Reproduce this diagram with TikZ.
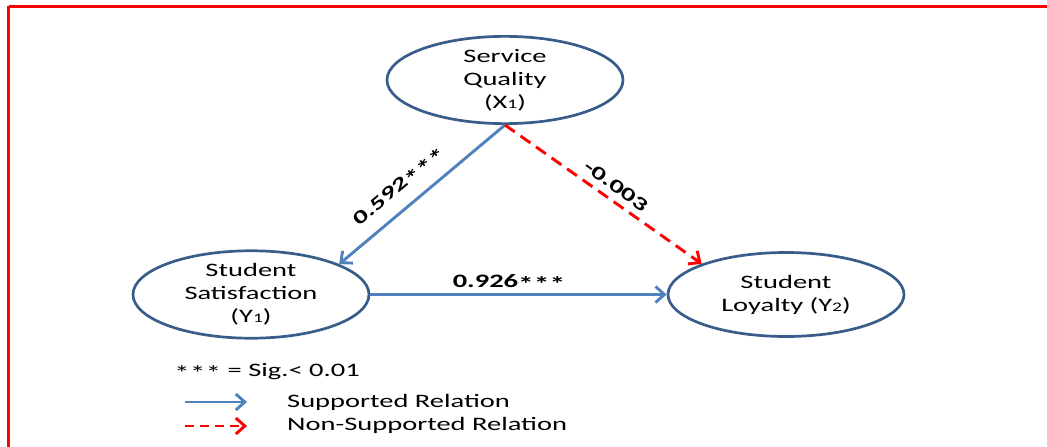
\documentclass[tikz,border=0pt]{standalone}
\usepackage{fontspec}
\setmainfont{Carlito}[FakeStretch=1.5]
\usetikzlibrary{arrows.meta,shapes.geometric}
\definecolor{ellc}{RGB}{56,93,138}
\definecolor{arrc}{RGB}{79,129,189}
\tikzset{
  latent/.style={ellipse, draw=ellc, line width=2.7pt, minimum width=236pt, minimum height=84pt, inner sep=0pt, align=center, font=\fontsize{19}{23}\selectfont},
  supp/.style={draw=arrc, line width=2.9pt, -{Straight Barb[length=9pt,width=16pt,line width=2.9pt]}},
  nonsupp/.style={draw=red, line width=2.9pt, dash pattern=on 12pt off 7pt, -{Straight Barb[length=9pt,width=16pt,line width=2.9pt]}},
  coef/.style={font=\fontsize{19}{23}\selectfont\bfseries, inner sep=1pt},
  legtext/.style={font=\fontsize{19}{23}\selectfont, anchor=west, inner sep=0pt}
}
\newcommand{\sbs}[1]{{\fontsize{13}{13}\selectfont #1}}
\newcommand{\stars}{\raisebox{-4pt}{\fontsize{21}{21}\selectfont ***}}
\begin{document}
\begin{tikzpicture}[x=1pt,y=-1pt]
\useasboundingbox (0,0) rectangle (1047,447);
\draw[red, line width=3pt] (8.5,6) -- (1060,6);
\draw[red, line width=3pt] (8.5,6) -- (8.5,460);
\node[latent] (sq) at (505,80) {Service\\Quality\\(X\sbs{1})};
\node[latent] (ss) at (251,294.5) {Student\\Satisfaction\\(Y\sbs{1})};
\node[latent] (sl) at (786,294.5) {Student\\Loyalty (Y\sbs{2})};
\draw[supp] (sq.south) -- (ss.19);
\draw[nonsupp] (sq.south) -- (sl.160);
\draw[supp] (ss.east) -- (sl.west);
\node[coef, rotate=40] (c1) at (400,187) {0.592\stars};
\node[coef, rotate=-36] (c2) at (616,186) {-0.003};
\node[coef] (c3) at (509,283) {0.926\stars};
\node[legtext] (sig) at (174,372) {\stars{} = Sig.< 0.01};
\coordinate (l1a) at (185,402);
\coordinate (l1b) at (247,402);
\coordinate (l2a) at (185,426);
\coordinate (l2b) at (247,426);
\draw[supp] (l1a) -- (l1b);
\draw[nonsupp, dash pattern=on 9pt off 6pt] (l2a) -- (l2b);
\node[legtext] (t1) at (287,402) {Supported Relation};
\node[legtext] (t2) at (287,425) {Non-Supported Relation};
\end{tikzpicture}
\end{document}
